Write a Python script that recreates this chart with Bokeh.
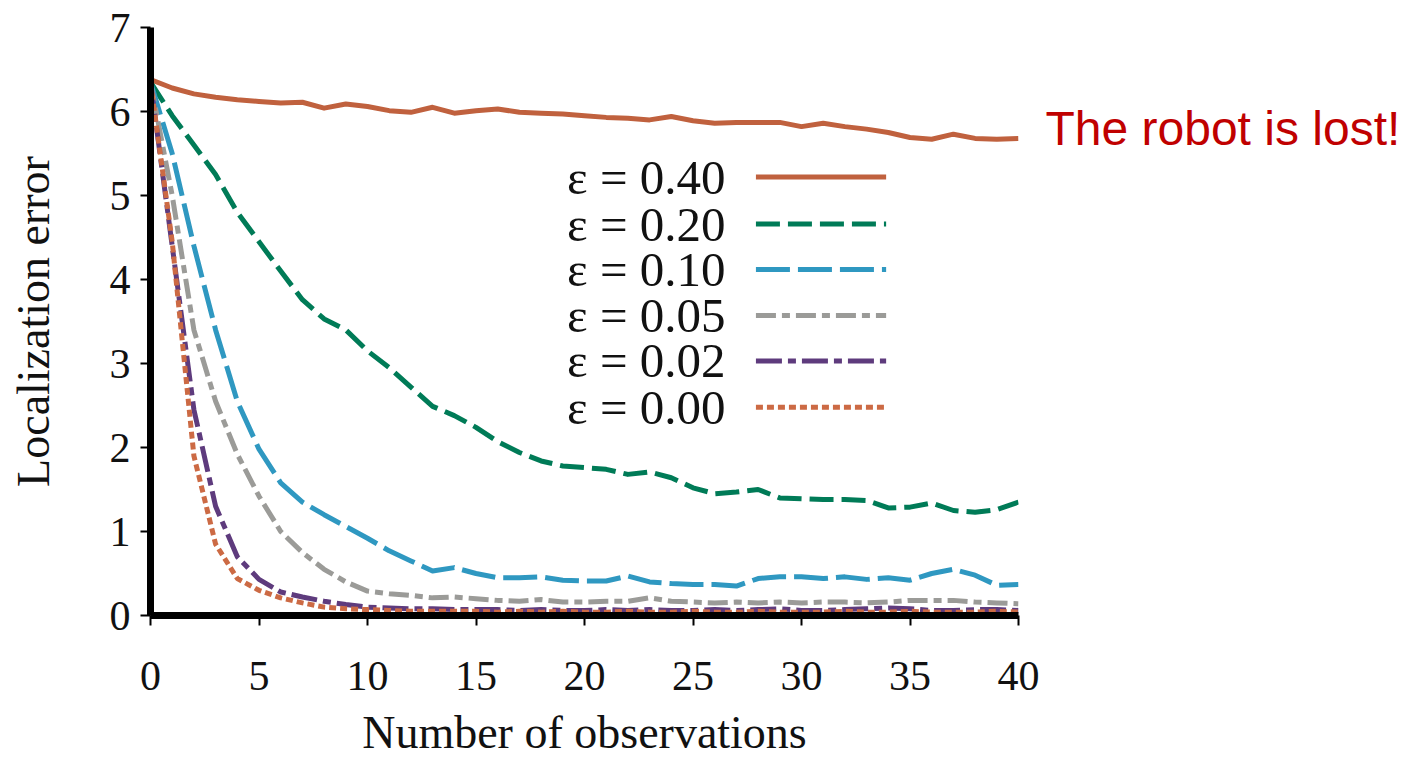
from bokeh.plotting import figure
from bokeh.models import Range1d, Label, FixedTicker
from bokeh.layouts import row
from bokeh.embed import file_html
from bokeh.resources import INLINE

# ---------------- data ----------------
observations = list(range(41))

err_eps_040 = [6.38, 6.28, 6.21, 6.17, 6.14, 6.12, 6.10, 6.11, 6.04, 6.09,
               6.06, 6.01, 5.99, 6.05, 5.98, 6.01, 6.03, 5.99, 5.98, 5.97,
               5.95, 5.93, 5.92, 5.90, 5.94, 5.89, 5.86, 5.87, 5.87, 5.87,
               5.82, 5.86, 5.82, 5.79, 5.75, 5.69, 5.67, 5.73, 5.68, 5.67, 5.68]

err_eps_020 = [6.35, 5.95, 5.60, 5.25, 4.80, 4.45, 4.10, 3.76, 3.53, 3.40,
               3.15, 2.95, 2.72, 2.49, 2.38, 2.24, 2.07, 1.94, 1.84, 1.78,
               1.76, 1.74, 1.68, 1.71, 1.64, 1.52, 1.45, 1.47, 1.50, 1.40,
               1.39, 1.38, 1.38, 1.37, 1.28, 1.29, 1.34, 1.25, 1.23, 1.26, 1.35]

err_eps_010 = [6.35, 5.50, 4.40, 3.40, 2.55, 1.98, 1.58, 1.35, 1.20, 1.06,
               0.92, 0.77, 0.65, 0.53, 0.57, 0.50, 0.45, 0.45, 0.46, 0.42,
               0.41, 0.41, 0.47, 0.40, 0.38, 0.37, 0.37, 0.35, 0.44, 0.46,
               0.46, 0.44, 0.46, 0.43, 0.45, 0.42, 0.50, 0.55, 0.48, 0.36, 0.37]

err_eps_005 = [6.35, 5.00, 3.40, 2.55, 1.92, 1.42, 1.00, 0.75, 0.55, 0.40,
               0.29, 0.26, 0.24, 0.21, 0.22, 0.20, 0.18, 0.17, 0.19, 0.16,
               0.16, 0.17, 0.17, 0.21, 0.17, 0.16, 0.15, 0.16, 0.15, 0.16,
               0.15, 0.16, 0.16, 0.15, 0.16, 0.18, 0.18, 0.18, 0.16, 0.15, 0.14]

err_eps_002 = [6.35, 4.40, 2.45, 1.30, 0.70, 0.43, 0.28, 0.22, 0.17, 0.13,
               0.10, 0.09, 0.08, 0.08, 0.07, 0.07, 0.07, 0.06, 0.07, 0.06,
               0.06, 0.07, 0.06, 0.07, 0.06, 0.06, 0.07, 0.06, 0.07, 0.08,
               0.06, 0.06, 0.07, 0.08, 0.09, 0.08, 0.06, 0.06, 0.07, 0.07, 0.06]

err_eps_000 = [6.35, 4.45, 1.90, 0.85, 0.44, 0.30, 0.21, 0.15, 0.10, 0.08,
               0.07, 0.06, 0.05, 0.05, 0.05, 0.05, 0.04, 0.05, 0.04, 0.05,
               0.04, 0.04, 0.05, 0.04, 0.04, 0.05, 0.04, 0.04, 0.05, 0.04,
               0.04, 0.04, 0.05, 0.04, 0.04, 0.05, 0.04, 0.04, 0.04, 0.05, 0.04]

series_labels = ["ε = 0.40", "ε = 0.20", "ε = 0.10", "ε = 0.05", "ε = 0.02", "ε = 0.00"]
x_ticks = [0, 5, 10, 15, 20, 25, 30, 35, 40]
y_ticks = [0, 1, 2, 3, 4, 5, 6, 7]
annotation_text = "The robot is lost!"

# ---------------- styles ----------------
styles = [
    dict(color="#C0613E", dash="solid"),
    dict(color="#007B57", dash="24 8"),
    dict(color="#2F98C1", dash="34 8"),
    dict(color="#9B9B98", dash="20 6 8 6"),
    dict(color="#5E3B7D", dash="26 6 8 6"),
    dict(color="#CC6A44", dash="7 4"),
]
series = [err_eps_040, err_eps_020, err_eps_010, err_eps_005, err_eps_002, err_eps_000]

SERIF = "Liberation Serif"
H = 760
W1 = 1044

p = figure(width=W1, height=H,
           x_range=Range1d(0, 40), y_range=Range1d(0, 7),
           output_backend="svg", toolbar_location=None,
           min_border_left=150, min_border_right=W1 - 150 - 868,
           min_border_top=27, min_border_bottom=H - 27 - 590)
p.outline_line_color = None
p.grid.visible = False

for ys, st in zip(series, styles):
    p.line(observations, ys, line_color=st["color"], line_width=5,
           line_dash=st["dash"], line_cap="butt", line_join="round")

# legend (text on the left, sample line on the right)
leg_rows = [5.22, 4.66, 4.12, 3.57, 3.03, 2.48]
for lab, yy, st in zip(series_labels, leg_rows, styles):
    p.line([27.9, 33.9], [yy, yy], line_color=st["color"], line_width=5,
           line_dash=st["dash"], line_cap="butt")
    p.add_layout(Label(x=26.5, y=yy, text=lab, text_align="right",
                       text_baseline="middle", text_font=SERIF,
                       text_font_size="49px", text_color="#111111"))

for ax in (p.xaxis[0], p.yaxis[0]):
    ax.axis_line_width = 7
    ax.axis_line_color = "black"
    ax.major_tick_in = 0
    ax.major_tick_out = 10
    ax.major_tick_line_width = 2
    ax.minor_tick_in = 0
    ax.minor_tick_out = 0
    ax.major_label_text_font = SERIF
    ax.major_label_text_font_size = "42px"
    ax.major_label_text_color = "#111111"
    ax.axis_label_text_font = SERIF
    ax.axis_label_text_font_style = "normal"
    ax.axis_label_text_font_size = "46px"
    ax.axis_label_text_color = "#111111"

p.xaxis.ticker = FixedTicker(ticks=x_ticks)
p.yaxis.ticker = FixedTicker(ticks=y_ticks)
p.xaxis.axis_label = "Number of observations"
p.yaxis.axis_label = "Localization error"
p.xaxis.major_label_standoff = 36
p.yaxis.major_label_standoff = 10
p.xaxis.axis_label_standoff = 14
p.yaxis.axis_label_standoff = 48

# side panel with the red annotation
W2 = 1400 - W1
p2 = figure(width=W2, height=H, x_range=Range1d(0, W2), y_range=Range1d(0, H),
            output_backend="svg", toolbar_location=None, min_border=0)
p2.axis.visible = False
p2.grid.visible = False
p2.outline_line_color = None
p2.add_layout(Label(x=1, y=H - 130, text=annotation_text, text_align="left",
                    text_baseline="middle", text_font="Liberation Sans",
                    text_font_size="48px", text_color="#C00000"))

layout = row(p, p2)
open("out.html", "w").write(file_html(layout, INLINE))
